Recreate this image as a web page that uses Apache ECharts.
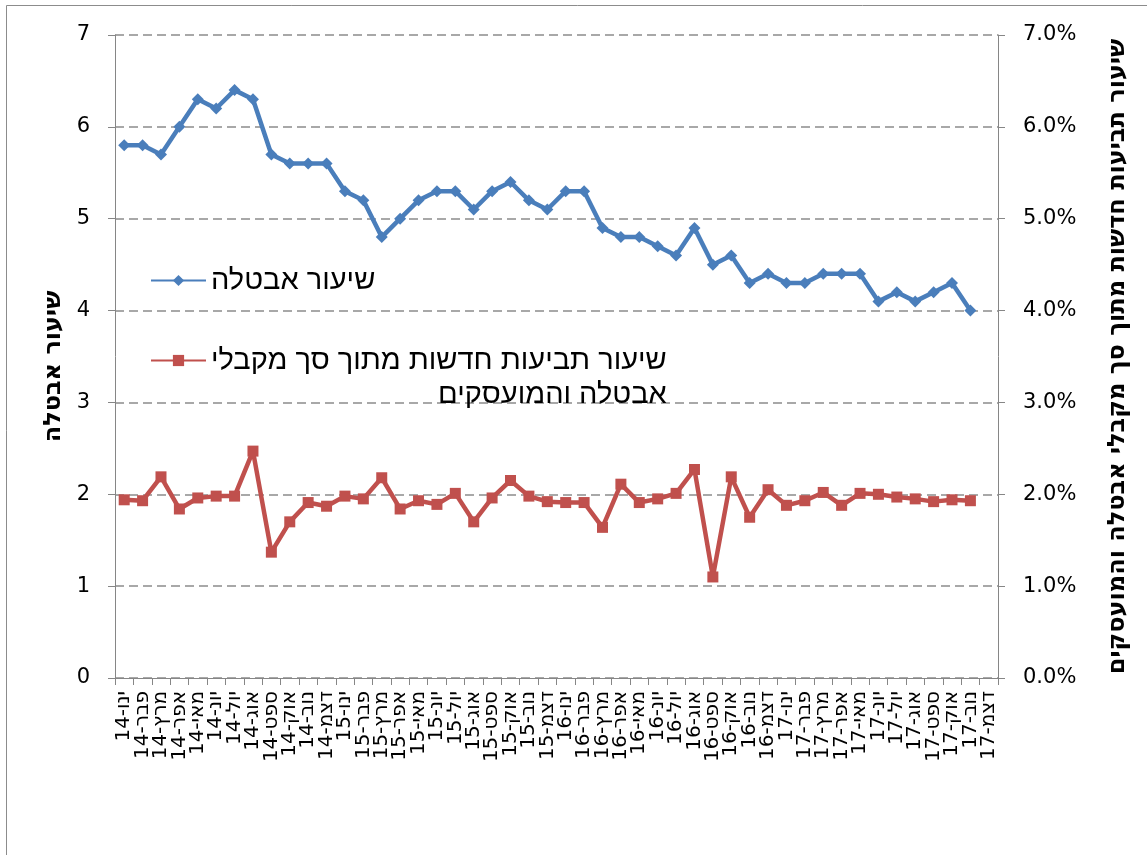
<!DOCTYPE html>
<html>
<head>
<meta charset="utf-8">
<script src="https://cdn.jsdelivr.net/npm/echarts@6/dist/echarts.min.js"></script>
<style>
html,body{margin:0;padding:0;background:#fff;}
#c{width:1147px;height:855px;}
</style>
</head>
<body>
<div id="c"></div>
<script>
const categories = [
  'ינו-14','פבר-14','מרץ-14','אפר-14','מאי-14','יונ-14','יול-14','אוג-14','ספט-14','אוק-14','נוב-14','דצמ-14',
  'ינו-15','פבר-15','מרץ-15','אפר-15','מאי-15','יונ-15','יול-15','אוג-15','ספט-15','אוק-15','נוב-15','דצמ-15',
  'ינו-16','פבר-16','מרץ-16','אפר-16','מאי-16','יונ-16','יול-16','אוג-16','ספט-16','אוק-16','נוב-16','דצמ-16',
  'ינו-17','פבר-17','מרץ-17','אפר-17','מאי-17','יונ-17','יול-17','אוג-17','ספט-17','אוק-17','נוב-17','דצמ-17'
];
const unemploymentRate = [
  5.8,5.8,5.7,6.0,6.3,6.2,6.4,6.3,5.7,5.6,5.6,5.6,
  5.3,5.2,4.8,5.0,5.2,5.3,5.3,5.1,5.3,5.4,5.2,5.1,
  5.3,5.3,4.9,4.8,4.8,4.7,4.6,4.9,4.5,4.6,4.3,4.4,
  4.3,4.3,4.4,4.4,4.4,4.1,4.2,4.1,4.2,4.3,4.0
];
const newClaimsRate = [
  1.94,1.93,2.19,1.84,1.96,1.98,1.98,2.47,1.37,1.70,1.91,1.87,
  1.98,1.95,2.18,1.84,1.93,1.89,2.01,1.70,1.96,2.15,1.98,1.92,
  1.91,1.91,1.64,2.11,1.91,1.95,2.01,2.27,1.10,2.19,1.75,2.05,
  1.88,1.93,2.02,1.88,2.01,2.00,1.97,1.95,1.92,1.94,1.93
];
const leftTicks = [0,1,2,3,4,5,6,7];
const name1 = 'שיעור אבטלה';
const name2 = 'שיעור תביעות חדשות מתוך סך מקבלי אבטלה והמועסקים';
const name2Line1 = 'שיעור תביעות חדשות מתוך סך מקבלי';
const name2Line2 = 'אבטלה והמועסקים';
const leftAxisTitle = 'שיעור אבטלה';
const rightAxisTitle = 'שיעור תביעות חדשות מתוך סך מקבלי אבטלה והמועסקים';

const chart = echarts.init(document.getElementById('c'), null, {renderer:'canvas'});
const axisGray = '#868686';
const numFont = 'DejaVu Sans';
const hebFont = 'Liberation Sans';
const titleFont = 'DejaVu Sans';

chart.setOption({
  animation: false,
  backgroundColor: '#fff',
  graphic: [{
    type: 'rect', left: 4, top: 3, z: -10, silent: true,
    shape: {x: 0, y: 0, width: 1300, height: 1000},
    style: {fill: 'none', stroke: '#8c8c8c', lineWidth: 1}
  }],
  grid: {left: 115, right: 149, top: 35, bottom: 177, containLabel: false},
  legend: [{
    data: [name1],
    left: 145, top: 261, orient: 'vertical',
    itemWidth: 55, itemHeight: 14,
    textStyle: {fontFamily: hebFont, fontSize: 29, color: '#000'}
  }, {
    data: [name2],
    left: 145, top: 341, orient: 'vertical',
    itemWidth: 55, itemHeight: 14,
    formatter: function(){ return '{a|' + name2Line1 + '}\n{b|' + name2Line2 + '}'; },
    textStyle: {
      fontFamily: hebFont, fontSize: 29, color: '#000', padding: [34,0,0,0],
      rich: {
        a: {fontFamily: hebFont, fontSize: 29, color: '#000', lineHeight: 34},
        b: {fontFamily: hebFont, fontSize: 29, color: '#000', lineHeight: 34, align: 'right'}
      }
    }
  }],
  xAxis: {
    type: 'category',
    data: categories,
    boundaryGap: true,
    axisLine: {lineStyle: {color: axisGray, width: 1}},
    axisTick: {show: true, interval: 0, length: 7, lineStyle: {color: axisGray}},
    axisLabel: {interval: 0, rotate: 90, fontFamily: numFont, fontSize: 20, color: '#000', margin: 13}
  },
  yAxis: [{
    type: 'value', min: 0, max: 7, interval: 1,
    name: leftAxisTitle, nameLocation: 'middle', nameGap: 49, nameRotate: 90,
    nameTextStyle: {fontFamily: titleFont, fontSize: 24, fontWeight: 'bold', color: '#000', padding: [0,20,0,0]},
    axisLine: {show: true, lineStyle: {color: axisGray, width: 1}},
    axisTick: {show: true, length: 7, lineStyle: {color: axisGray}},
    axisLabel: {fontFamily: numFont, fontSize: 21, color: '#000', margin: 25,
      formatter: function(v){ return leftTicks.indexOf(v) >= 0 ? String(v) : ''; }},
    splitLine: {show: true, lineStyle: {color: '#8c8c8c', width: 1.5, type: [9,5]}}
  }, {
    type: 'value', min: 0, max: 7, interval: 1, position: 'right',
    name: rightAxisTitle, nameLocation: 'middle', nameGap: 108, nameRotate: 90,
    nameTextStyle: {fontFamily: titleFont, fontSize: 24, fontWeight: 'bold', color: '#000'},
    axisLine: {show: true, lineStyle: {color: axisGray, width: 1}},
    axisTick: {show: true, length: 7, lineStyle: {color: axisGray}},
    axisLabel: {fontFamily: numFont, fontSize: 21, color: '#000', margin: 25,
      formatter: function(v){ return v.toFixed(1) + '%'; }},
    splitLine: {show: false}
  }],
  series: [{
    name: name1, type: 'line', yAxisIndex: 0,
    data: unemploymentRate,
    symbol: 'diamond', symbolSize: 12,
    lineStyle: {color: '#4a7ebb', width: 4.5},
    itemStyle: {color: '#4a7ebb'},
    z: 3
  }, {
    name: name2, type: 'line', yAxisIndex: 1,
    data: newClaimsRate,
    symbol: 'rect', symbolSize: 11,
    lineStyle: {color: '#c0504d', width: 4.5},
    itemStyle: {color: '#c0504d'},
    z: 2
  }]
});
</script>
</body>
</html>
